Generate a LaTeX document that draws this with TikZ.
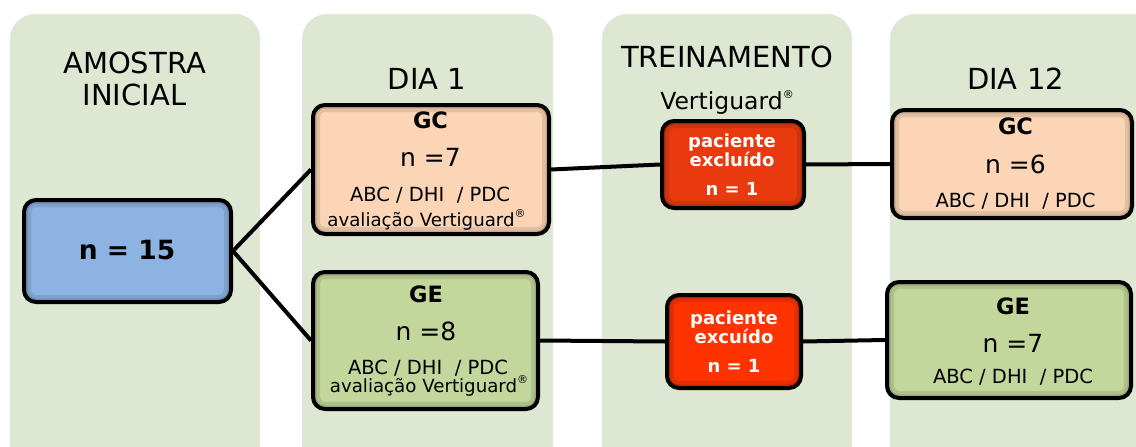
\documentclass[tikz,border=0pt]{standalone}
\usepackage{fontspec}
\setmainfont{DejaVu Sans}
\usepackage{graphicx}
\definecolor{colbg}{RGB}{222,231,210}
\definecolor{peach}{RGB}{251,213,181}
\definecolor{olivebox}{RGB}{195,214,155}
\definecolor{bluebox}{RGB}{141,179,226}
\definecolor{redA}{RGB}{232,58,14}
\definecolor{redB}{RGB}{255,51,0}
\newcommand{\fs}[1]{\fontsize{#1}{#1}\selectfont}
\newcommand{\regmark}{\raisebox{0.45em}{\fs{11}®}}
\tikzset{
  colpanel/.style={fill=colbg, rounded corners=25pt},
  box/.style={draw=black, line width=4pt, rounded corners=12pt, inner sep=0pt,
    path picture={
      \draw[line width=14pt, black, opacity=0.10, rounded corners=12pt]
        (path picture bounding box.south west) rectangle (path picture bounding box.north east);
      \draw[line width=7pt, black, opacity=0.12, rounded corners=12pt]
        (path picture bounding box.south west) rectangle (path picture bounding box.north east);
    }},
  link/.style={line width=4pt, black},
  head/.style={anchor=base, font=\fs{29}},
  sub/.style={anchor=base, font=\fs{23.5}},
  grp/.style={anchor=base, font=\fs{22.5}\bfseries},
  cnt/.style={anchor=base, font=\fs{25}},
  small/.style={anchor=base, font=\fs{19.5}},
  smalltwo/.style={anchor=base, font=\fs{18.2}},
  excl/.style={anchor=base, font=\fs{18}\bfseries, text=white},
}
\begin{document}
\begin{tikzpicture}[x=1pt,y=-1pt]
\useasboundingbox (0,0) rectangle (1136,447);
\clip (0,0) rectangle (1136,447);
% column panels
\fill[colpanel] (10,14) rectangle (260,490);
\fill[colpanel] (302,14) rectangle (553,490);
\fill[colpanel] (602,14) rectangle (852,490);
\fill[colpanel] (890,14) rectangle (1170,490);
% headings
\node[head] (h1a) at (134.5,73) {AMOSTRA};
\node[head] (h1b) at (134.5,105) {INICIAL};
\node[head] (h2) at (427,89) {DIA 1};
\node[head] (h3) at (727,67) {TREINAMENTO};
\node[sub] (h3b) at (727,109) {Vertiguard\regmark};
\node[head] (h4) at (1015.5,89) {DIA 12};
% boxes
\node[box, fill=bluebox, minimum width=207pt, minimum height=102pt] (n15) at (127.5,251) {};
\node[box, fill=peach, minimum width=236pt, minimum height=129pt] (gc1) at (431,169.5) {};
\node[box, fill=olivebox, minimum width=225pt, minimum height=137pt] (ge1) at (425.5,340.5) {};
\node[box, fill=redA, minimum width=142pt, minimum height=87pt] (ex1) at (733,164.5) {};
\node[box, fill=redB, minimum width=134pt, minimum height=93pt] (ex2) at (734,341.5) {};
\node[box, fill=peach, minimum width=240pt, minimum height=108pt] (gc2) at (1012,164) {};
\node[box, fill=olivebox, minimum width=244pt, minimum height=116pt] (ge2) at (1009,340) {};
% connectors
\draw[link] (n15.east) -- (gc1.west);
\draw[link] (n15.east) -- (ge1.west);
\draw[link] (gc1.east) -- (ex1.west);
\draw[link] (ex1.east) -- (gc2.west);
\draw[link] (ge1.east) -- (ex2.west);
\draw[link] (ex2.east) -- (ge2.west);
% texts
\node[anchor=base, font=\fs{26.5}\bfseries] (n15t) at (127,259) {n = 15};
\node[grp] (gc1a) at (430.5,128) {GC};
\node[cnt] (gc1b) at (430.5,166) {n =7};
\node[small] (gc1c) at (430,201) {ABC / DHI\ \ / PDC};
\node[smalltwo] (gc1d) at (426.5,226) {avaliação Vertiguard\regmark};
\node[grp] (ge1a) at (426,302) {GE};
\node[cnt] (ge1b) at (426,340) {n =8};
\node[small] (ge1c) at (428,374) {ABC / DHI\ \ / PDC};
\node[smalltwo] (ge1d) at (429,392) {avaliação Vertiguard\regmark};
\node[excl] (ex1a) at (732,147) {paciente};
\node[excl] (ex1b) at (732,166) {excluído};
\node[excl] (ex1c) at (732,195) {n = 1};
\node[excl] (ex2a) at (734,324) {paciente};
\node[excl] (ex2b) at (734,343) {excuído};
\node[excl] (ex2c) at (734,372) {n = 1};
\node[grp] (gc2a) at (1015.5,134) {GC};
\node[cnt] (gc2b) at (1015.5,173) {n =6};
\node[small] (gc2c) at (1015.5,207) {ABC / DHI\ \ / PDC};
\node[grp] (ge2a) at (1013,314) {GE};
\node[cnt] (ge2b) at (1013,352) {n =7};
\node[small] (ge2c) at (1013,383) {ABC / DHI\ \ / PDC};
\end{tikzpicture}
\end{document}
